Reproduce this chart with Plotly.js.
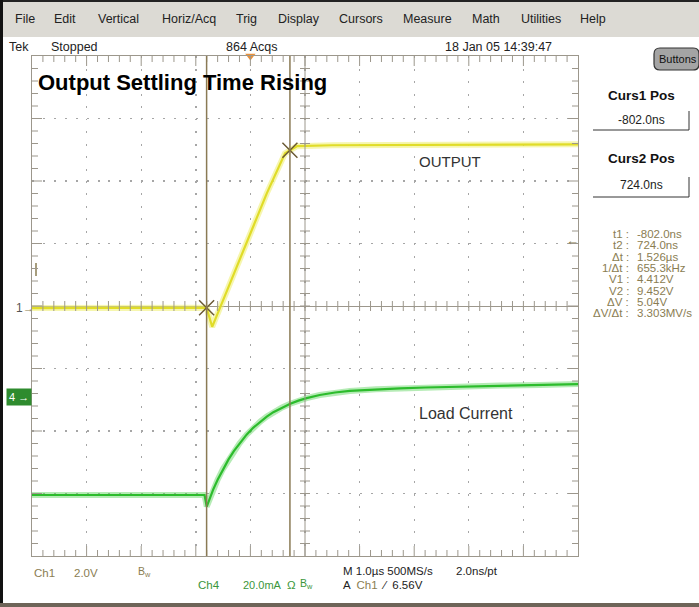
<!DOCTYPE html>
<html><head><meta charset="utf-8">
<script src="https://cdn.plot.ly/plotly-3.0.1.min.js"></script>
<style>html,body{margin:0;padding:0;background:#fff;}#chart{width:699px;height:607px;}</style>
</head><body><div id="chart"></div>
<script>
// Ch1 OUTPUT voltage (V) vs time (µs)
const outTime = [-4.0, -2.0, -0.84, -0.802, -0.75, -0.70, -0.40, 0.0, 0.30, 0.634, 0.724, 0.85, 1.5, 3.0, 4.5, 6.0];
const outVolt = [4.40, 4.40, 4.40, 4.41, 4.10, 3.80, 5.08, 6.79, 8.07, 9.35, 9.45, 9.58, 9.61, 9.62, 9.63, 9.64];
// Ch4 load current (mA) vs time (µs)
const curTime = [-4.0, -2.0, -0.84, -0.80, -0.74, -0.68, -0.60, -0.50, -0.40, -0.30, -0.20, -0.07, 0.05, 0.18, 0.30, 0.42, 0.58, 0.73, 0.88, 1.03, 1.27, 1.55, 1.82, 2.3, 2.74, 3.2, 3.65, 4.1, 4.57, 5.3, 6.0];
const curmA   = [0.0, 0.0, 0.0, -3.7, -0.8, 1.8, 4.9, 8.4, 11.4, 14.1, 16.5, 19.3, 21.5, 23.5, 25.1, 26.5, 28.0, 29.2, 30.2, 31.0, 32.0, 32.8, 33.3, 33.8, 34.1, 34.4, 34.6, 34.8, 35.0, 35.2, 35.5];
// cursors
const cursorTimes = [-0.802, 0.724];
const cursorVolts = [4.412, 9.452];
const triggerLevel = 6.56;
// readouts
const menuItems = ['File','Edit','Vertical','Horiz/Acq','Trig','Display','Cursors','Measure','Math','Utilities','Help'];
const readLabels = ['t1 :','t2 :','Δt :','1/Δt :','V1 :','V2 :','ΔV :','ΔV/Δt :'];
const readValues = ['-802.0ns','724.0ns','1.526µs','655.3kHz','4.412V','9.452V','5.04V','3.303MV/s'];

// ---------------- layout helpers ----------------
const W=699,H=607,L=32,R=578,T=56,B=556;
const px = x => (x-L)/(R-L);
const py = y => (B-y)/(B-T);
const FONT = '"Liberation Sans", Arial, sans-serif';
const TAN = '#8a7d52', GRN = '#3b963b', GRIDC = '#9c978c';
function txt(x,y,s,o){o=o||{};return {xref:'paper',yref:'paper',x:px(x),y:py(y),text:s,showarrow:false,
  xanchor:o.xa||'center',yanchor:'middle',font:{family:FONT,size:o.size||12,color:o.color||'#222',weight:o.weight||'normal'},
  bgcolor:o.bg,borderpad:o.pad||0};}

const ann = [];
const menuX = [25,65,118,189,246,299,361,427,486,541,593];
menuItems.forEach((m,i)=>ann.push(txt(menuX[i],19,m,{size:12.5})));
ann.push(txt(8,47,'Tek',{xa:'left',size:12.5}));
ann.push(txt(50,47,'Stopped',{xa:'left',size:12.5}));
ann.push(txt(225,47,'864 Acqs',{xa:'left',size:12.5}));
ann.push(txt(444,47,'18 Jan 05 14:39:47',{xa:'left',size:12.5}));
ann.push(txt(678,59,'Buttons',{size:11,color:'#111'}));
ann.push(txt(37,82,'Output Settling Time Rising',{xa:'left',size:22,weight:'bold',color:'#000'}));
ann.push(txt(450,161,'OUTPUT',{size:15,color:'#333'}));
ann.push(txt(466,413,'Load Current',{size:16,color:'#333'}));
ann.push(txt(641,96,'Curs1 Pos',{size:13.5,weight:'bold',color:'#111'}));
ann.push(txt(641,120,'-802.0ns',{size:12,color:'#222'}));
ann.push(txt(641,158,'Curs2 Pos',{size:13.5,weight:'bold',color:'#111'}));
ann.push(txt(641,185,'724.0ns',{size:12,color:'#222'}));
readLabels.forEach((s,i)=>{
  const y=234+i*11.3;
  ann.push(txt(630,y,s,{xa:'right',size:11.5,color:TAN}));
  ann.push(txt(636,y,readValues[i],{xa:'left',size:11.5,color:TAN}));
});
// bottom status
ann.push(txt(33,573,'Ch1',{xa:'left',size:11.5,color:TAN}));
ann.push(txt(73,573,'2.0V',{xa:'left',size:11.5,color:TAN}));
ann.push(txt(137,572,'B<sub>w</sub>',{xa:'left',size:10.5,color:TAN}));
ann.push(txt(197,585,'Ch4',{xa:'left',size:11.5,color:GRN}));
ann.push(txt(242,585,'20.0mA',{xa:'left',size:11,color:GRN}));
ann.push(txt(286,585,'Ω',{xa:'left',size:11.5,color:GRN}));
ann.push(txt(299,584,'B<sub>w</sub>',{xa:'left',size:10.5,color:GRN}));
ann.push(txt(342,571,'M 1.0µs 500MS/s',{xa:'left',size:11.5,color:'#222'}));
ann.push(txt(455,571,'2.0ns/pt',{xa:'left',size:11.5,color:'#222'}));
ann.push(txt(342,585,'A  <span style="color:'+TAN+'">Ch1</span>  ⁄  6.56V',{xa:'left',size:11.5,color:'#222'}));
// channel markers
ann.push(txt(19,308,'1',{size:12,color:'#555'}));
ann.push(txt(28,308,'→',{size:11,color:TAN}));
ann.push(txt(19,397,'4 →',{size:11,color:'#fff',bg:'#2e8b2e',pad:2}));
// trigger level arrow on right
ann.push({xref:'paper',yref:'y2',x:px(572),y:triggerLevel,text:'←',showarrow:false,xanchor:'center',yanchor:'middle',
  font:{family:FONT,size:13,color:TAN}});

const shapes = [
  {type:'rect',xref:'paper',yref:'paper',x0:px(0),x1:px(699),y0:py(0),y1:py(37),fillcolor:'#dcdad4',line:{width:0},layer:'below'},
  {type:'rect',xref:'paper',yref:'paper',x0:px(0),x1:px(699),y0:py(0),y1:py(2),fillcolor:'#222',line:{width:0},layer:'below'},
  {type:'rect',xref:'paper',yref:'paper',x0:px(0),x1:px(3),y0:py(0),y1:py(607),fillcolor:'#111',line:{width:0},layer:'below'},
  {type:'rect',xref:'paper',yref:'paper',x0:px(0),x1:px(699),y0:py(603),y1:py(607),fillcolor:'#6e6458',line:{width:0},layer:'below'},
  // Buttons
  {type:'path',xref:'paper',yref:'paper',
   path:`M ${px(660)} ${py(48)} L ${px(693)} ${py(48)} Q ${px(699)} ${py(48)} ${px(699)} ${py(54)} L ${px(699)} ${py(64)} Q ${px(699)} ${py(70)} ${px(693)} ${py(70)} L ${px(660)} ${py(70)} Q ${px(654)} ${py(70)} ${px(654)} ${py(64)} L ${px(654)} ${py(54)} Q ${px(654)} ${py(48)} ${px(660)} ${py(48)} Z`,
   fillcolor:'#a4a4a4',line:{color:'#333',width:1.2}},
  // cursor readout boxes
  {type:'line',xref:'paper',yref:'paper',x0:px(593),x1:px(689),y0:py(130),y1:py(130),line:{color:'#333',width:1}},
  {type:'line',xref:'paper',yref:'paper',x0:px(689),x1:px(689),y0:py(111),y1:py(130),line:{color:'#333',width:1}},
  {type:'line',xref:'paper',yref:'paper',x0:px(593),x1:px(689),y0:py(197),y1:py(197),line:{color:'#333',width:1}},
  {type:'line',xref:'paper',yref:'paper',x0:px(689),x1:px(689),y0:py(177),y1:py(197),line:{color:'#333',width:1}},
  // small marker at left
  {type:'line',xref:'paper',yref:'paper',x0:px(36),x1:px(36),y0:py(263),y1:py(276),line:{color:TAN,width:1.5}},
];
// graticule ticks: minor every 0.2 division along the frame edges and across the centre lines
const tk = (x0,x1,y0,y1)=>shapes.push({type:'line',xref:'paper',yref:'paper',x0,x1,y0,y1,line:{color:GRIDC,width:1}});
const xPer = 1/(R-L), yPer = 1/(B-T);
for (let i=1;i<50;i++){
  const f=i/50, len=(i%5===0)?10:6;
  tk(f,f,0,len*yPer); tk(f,f,1,1-len*yPer);            // bottom / top edges
  tk(f,f,0.5-5*yPer,0.5+5*yPer);                        // centre horizontal line
}
for (let i=1;i<40;i++){
  const f=i/40, len=(i%5===0)?10:6;
  tk(0,len*xPer,f,f); tk(1,1-len*xPer,f,f);            // left / right edges
  tk(0.5-5*xPer,0.5+5*xPer,f,f);                        // centre vertical line
}
shapes.push({type:'line',xref:'paper',yref:'paper',x0:0.5,x1:0.5,y0:0,y1:1,line:{color:GRIDC,width:1}});
cursorTimes.forEach(t=>shapes.push({type:'line',xref:'x',yref:'paper',x0:t,x1:t,y0:0,y1:1,line:{color:'#8a7a55',width:1.5}}));

const layout = {
  width:W,height:H,margin:{l:L,r:W-R,t:T,b:H-B,pad:0},
  paper_bgcolor:'#ffffff',plot_bgcolor:'rgba(0,0,0,0)',showlegend:false,
  xaxis:{range:[-4,6],dtick:1,tick0:0,showgrid:true,gridcolor:'#a6a6a6',griddash:'2px,10.5px',gridwidth:1.4,
    showline:true,linecolor:GRIDC,linewidth:1,mirror:true,ticks:'',showticklabels:false,zeroline:false,fixedrange:true},
  yaxis:{range:[-4,4],dtick:1,tick0:0,showgrid:true,gridcolor:'#a6a6a6',griddash:'2px,8.92px',gridwidth:1.4,
    showline:true,linecolor:GRIDC,linewidth:1,mirror:true,ticks:'',showticklabels:false,zeroline:true,zerolinecolor:GRIDC,zerolinewidth:1,fixedrange:true},
  // Ch1: 2.0 V/div, Ch4: 20 mA/div
  yaxis2:{overlaying:'y',range:[4.466-8,4.466+8],visible:false,fixedrange:true},
  yaxis3:{overlaying:'y',range:[-19.52,140.48],visible:false,fixedrange:true},
  annotations:ann,shapes:shapes
};

const traces = [
  {x:curTime,y:curmA,yaxis:'y3',mode:'lines',line:{color:'rgba(90,210,90,0.45)',width:6}},
  {x:curTime,y:curmA,yaxis:'y3',mode:'lines',line:{color:'#2cbc2c',width:2.2}},
  {x:outTime,y:outVolt,yaxis:'y2',mode:'lines',line:{color:'rgba(238,238,110,0.55)',width:6}},
  {x:outTime,y:outVolt,yaxis:'y2',mode:'lines',line:{color:'#e0dc28',width:2.2}},
  {x:cursorTimes,y:cursorVolts,yaxis:'y2',mode:'markers',marker:{symbol:'x-thin-open',size:15,color:'#6b5a35',line:{color:'#6b5a35',width:1.5}}},
  {x:[0],y:[4],yaxis:'y',mode:'markers',cliponaxis:false,marker:{symbol:'triangle-down',size:9,color:'#e8903a'}}
];
Plotly.newPlot('chart',traces,layout,{displayModeBar:false,staticPlot:true});
</script></body></html>
